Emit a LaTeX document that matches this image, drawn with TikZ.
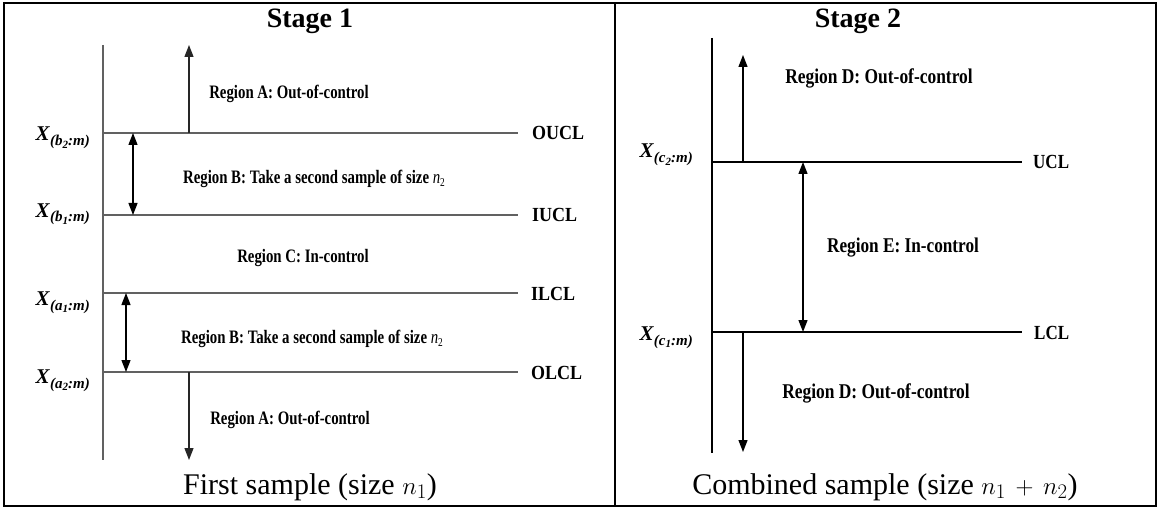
\documentclass[tikz,border=0pt]{standalone}
\usepackage{fontspec}
\setmainfont{Liberation Serif}
\usepackage{graphicx}
\usetikzlibrary{arrows.meta}
\newcommand\cnd[2]{\scalebox{#1}[1]{#2}}
\newcommand\xl[2]{\textbf{\textit{X}}\raisebox{-5pt}{\fontsize{15}{15}\selectfont\bfseries\itshape (#1\raisebox{-2.5pt}{\fontsize{11}{11}\selectfont #2}:m)}}
\newcommand\nsub[1]{\textit{n}\raisebox{-3pt}{\fontsize{12}{12}\selectfont #1}}
\tikzset{
  every node/.style={inner sep=0pt},
  gline/.style={draw=black!62, line width=1.4pt},
  kline/.style={draw=black, line width=2.2pt},
  arr/.style={-{Triangle[length=12pt,width=9pt]}, line width=1.3pt},
  darr/.style={{Triangle[length=12pt,width=9pt]}-{Triangle[length=12pt,width=9pt]}, line width=1.3pt},
  regone/.style={anchor=base, font=\bfseries\fontsize{19}{19}\selectfont},
  regtwo/.style={anchor=base, font=\bfseries\fontsize{21}{21}\selectfont},
  limone/.style={anchor=base west, font=\bfseries\fontsize{20}{20}\selectfont},
  xlab/.style={anchor=base east, font=\fontsize{21}{21}\selectfont},
  ttltext/.style={anchor=base, font=\bfseries\fontsize{28}{28}\selectfont},
  captext/.style={anchor=base, font=\fontsize{30}{30}\selectfont},
}
\begin{document}
\begin{tikzpicture}[x=1pt,y=-1pt]
\useasboundingbox (0,0) rectangle (1160,508);
% frame
\draw[line width=2.5pt] (4,3) rectangle (1156,506);
\draw[line width=2.5pt] (615,3) -- (615,506);
% titles and captions
\node[ttltext] (t1) at (310,28) {Stage 1};
\node[ttltext] (t2) at (858,28) {Stage 2};
\node[captext] (c1) at (310,494) {First sample (size $n_1$)};
\node[captext] (c2) at (885,494) {Combined sample (size $n_1\,+\,n_2$)};
% ---------- Stage 1
\coordinate (a1top) at (103,45);
\coordinate (a1bot) at (103,460);
\draw[gline] (a1top) -- (a1bot);
\coordinate (oucl0) at (103,133); \coordinate (oucl1) at (518,133);
\coordinate (iucl0) at (103,215); \coordinate (iucl1) at (518,215);
\coordinate (ilcl0) at (103,293); \coordinate (ilcl1) at (518,293);
\coordinate (olcl0) at (103,372); \coordinate (olcl1) at (518,372);
\draw[gline] (oucl0) -- (oucl1);
\draw[gline] (iucl0) -- (iucl1);
\draw[gline] (ilcl0) -- (ilcl1);
\draw[gline] (olcl0) -- (olcl1);
\node[limone] (OUCL) at (532,140) {\cnd{0.9}{OUCL}};
\node[limone] (IUCL) at (532,222) {\cnd{0.9}{IUCL}};
\node[limone] (ILCL) at (531,300) {\cnd{0.9}{ILCL}};
\node[limone] (OLCL) at (531,379) {\cnd{0.9}{OLCL}};
\node[xlab] (xb2) at (90,141) {\xl{b}{2}};
\node[xlab] (xb1) at (90,217) {\xl{b}{1}};
\node[xlab] (xa1) at (90,305) {\xl{a}{1}};
\node[xlab] (xa2) at (90,383) {\xl{a}{2}};
\coordinate (upA0) at (189,133); \coordinate (upA1) at (189,45);
\coordinate (dnA0) at (189,372); \coordinate (dnA1) at (189,460);
\draw[arr, draw=black!85] (upA0) -- (upA1);
\draw[arr, draw=black!85] (dnA0) -- (dnA1);
\coordinate (bU0) at (133,133); \coordinate (bU1) at (133,215);
\coordinate (bL0) at (126,293); \coordinate (bL1) at (126,372);
\draw[darr] (bU0) -- (bU1);
\draw[darr] (bL0) -- (bL1);
\node[regone] (rA1) at (289,99) {\cnd{0.78}{Region A: Out-of-control}};
\node[regone] (rB1) at (314,183) {\cnd{0.78}{Region B: Take a second sample of size \mdseries\nsub{2}}};
\node[regone] (rC) at (303,262) {\cnd{0.78}{Region C: In-control}};
\node[regone] (rB2) at (312,343) {\cnd{0.78}{Region B: Take a second sample of size \mdseries\nsub{2}}};
\node[regone] (rA2) at (290,424) {\cnd{0.78}{Region A: Out-of-control}};
% ---------- Stage 2
\coordinate (a2top) at (712,38);
\coordinate (a2bot) at (712,453);
\draw[kline] (a2top) -- (a2bot);
\coordinate (ucl0) at (712,162); \coordinate (ucl1) at (1022,162);
\coordinate (lcl0) at (712,332); \coordinate (lcl1) at (1022,332);
\draw[kline] (ucl0) -- (ucl1);
\draw[kline] (lcl0) -- (lcl1);
\node[limone] (UCL) at (1033,169) {\cnd{0.85}{UCL}};
\node[limone] (LCL) at (1034,339) {\cnd{0.85}{LCL}};
\node[xlab] (xc2) at (693,158) {\xl{c}{2}};
\node[xlab] (xc1) at (693,340) {\xl{c}{1}};
\coordinate (upD0) at (743,162); \coordinate (upD1) at (743,55);
\coordinate (dnD0) at (743,332); \coordinate (dnD1) at (743,452);
\draw[arr] (upD0) -- (upD1);
\draw[arr] (dnD0) -- (dnD1);
\coordinate (e0) at (803,162); \coordinate (e1) at (803,332);
\draw[darr] (e0) -- (e1);
\node[regtwo] (rD1) at (879,84) {\cnd{0.83}{Region D: Out-of-control}};
\node[regtwo] (rE) at (903,252) {\cnd{0.82}{Region E: In-control}};
\node[regtwo] (rD2) at (876,398) {\cnd{0.83}{Region D: Out-of-control}};
\end{tikzpicture}
\end{document}
